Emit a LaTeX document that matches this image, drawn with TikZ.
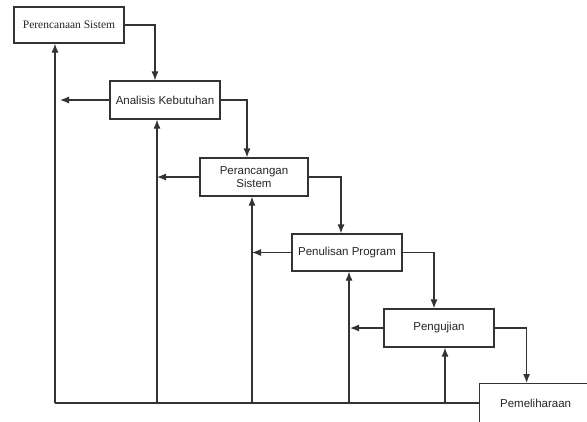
\documentclass[tikz,border=0pt]{standalone}
\usepackage{fontspec}
\setmainfont{Liberation Serif}
\setsansfont{Liberation Sans}
\usetikzlibrary{arrows.meta}
\definecolor{ln}{HTML}{333333}
\begin{document}
\begin{tikzpicture}[x=1pt,y=-1pt,
  box/.style={draw=ln, line width=1.2pt, fill=white, inner sep=0pt, align=center,
    font=\sffamily\fontsize{11.5}{13}\selectfont, text=black!85},
  conn/.style={draw=ln, line width=1.2pt},
  arr/.style={conn, -{Latex[length=9pt,width=7pt]}}]
\clip (0,0) rectangle (587,421);
\fill[white] (0,0) rectangle (587,421);
% boxes
\node[box, font=\rmfamily\fontsize{11.5}{13}\selectfont, minimum width=110, minimum height=36] (p1) at (69,25) {Perencanaan Sistem};
\node[box, minimum width=110, minimum height=38] (p2) at (165,100) {Analisis Kebutuhan};
\node[box, minimum width=108, minimum height=38, font=\sffamily\fontsize{11.5}{12.5}\selectfont] (p3) at (254,177) {Perancangan\\Sistem};
\node[box, minimum width=110, minimum height=37] (p4) at (347,252.5) {Penulisan Program};
\node[box, minimum width=110, minimum height=38] (p5) at (439,328) {Pengujian};
\node[box, anchor=north west, minimum width=112, inner ysep=12pt, text height=12pt, text depth=30pt] (p6) at (479,383) {Pemeliharaan};
% coordinates on the bottom line
\coordinate (b0) at (55,403);
\coordinate (v1) at (157,403);
\coordinate (v2) at (252,403);
\coordinate (v3) at (349,403);
\coordinate (v4) at (445,403);
\coordinate (f1) at (60,100);
% forward flow
\draw[arr] (p1.east) -| ([xshift=-10pt]p2.north);
\draw[arr] (p2.east) -| ([xshift=-7pt]p3.north);
\draw[arr] (p3.east) -| ([xshift=-6pt]p4.north);
\draw[arr] (p4.east) -| ([xshift=-5pt]p5.north);
\draw[arr] (p5.east) -| ([xshift=-9pt]p6.north);
% bottom line
\draw[conn] (b0) -- (b0 -| p6.west);
% feedback verticals
\draw[arr] (b0) -- (b0 |- p1.south);
\draw[arr] (v1) -- (v1 |- p2.south);
\draw[arr] (v2) -- (v2 |- p3.south);
\draw[arr] (v3) -- (v3 |- p4.south);
\draw[arr] (v4) -- (v4 |- p5.south);
% feedback horizontals
\draw[arr] (p2.west) -- (p2.west -| f1);
\draw[arr] (p3.west) -- (p3.west -| v1);
\draw[arr] (p4.west) -- (p4.west -| v2);
\draw[arr] (p5.west) -- ([xshift=1pt]p5.west -| v3);
\end{tikzpicture}
\end{document}
